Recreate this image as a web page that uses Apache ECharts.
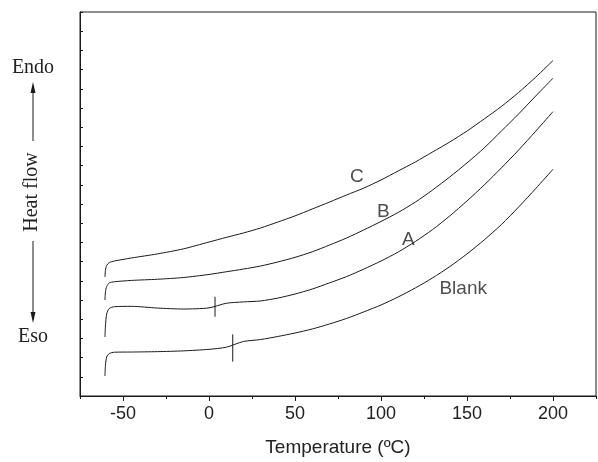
<!DOCTYPE html>
<html><head><meta charset="utf-8">
<script src="https://cdn.jsdelivr.net/npm/echarts@6/dist/echarts.min.js"></script>
<style>html,body{margin:0;padding:0;background:#fff}#c{width:598px;height:462px}</style>
</head><body><div id="c"></div>
<script>
// Temperature (°C) sample points shared by all curves
const temperature = [-60.5, -60.2, -59.5, -58, -55, -45, -30, -15, 0, 10, 20, 30, 40, 50, 60, 70, 80, 90, 100, 110, 120, 130, 140, 150, 160, 170, 180, 190, 200];
// Heat flow (arbitrary units, endo up)
const curveC = [6.20, 6.56, 6.80, 6.95, 7.03, 7.19, 7.40, 7.66, 8.02, 8.26, 8.49, 8.75, 9.06, 9.38, 9.74, 10.10, 10.47, 10.83, 11.25, 11.72, 12.19, 12.71, 13.23, 13.80, 14.43, 15.08, 15.81, 16.61, 17.47];
const curveB = [5.00, 5.42, 5.70, 5.89, 5.95, 6.02, 6.08, 6.17, 6.33, 6.47, 6.61, 6.77, 6.98, 7.22, 7.51, 7.86, 8.23, 8.65, 9.09, 9.56, 10.10, 10.73, 11.41, 12.14, 12.92, 13.80, 14.69, 15.63, 16.55];
const curveA = [3.07, 3.65, 4.27, 4.56, 4.65, 4.67, 4.58, 4.53, 4.59, 4.83, 4.90, 4.95, 5.10, 5.31, 5.57, 5.89, 6.22, 6.61, 7.03, 7.50, 8.05, 8.67, 9.38, 10.16, 10.99, 11.88, 12.81, 13.80, 14.81];
const curveBlank = [1.04, 1.61, 2.03, 2.21, 2.28, 2.29, 2.31, 2.35, 2.43, 2.54, 2.84, 2.94, 3.10, 3.28, 3.49, 3.75, 4.04, 4.38, 4.74, 5.16, 5.63, 6.15, 6.74, 7.40, 8.13, 8.93, 9.84, 10.81, 11.81];
// Glass-transition markers: [temperature, low, high]
const tgA = [3.5, 4.13, 5.17];
const tgBlank = [13.8, 1.79, 3.21];
// Curve labels: [text, temperature, heat flow]
const curveLabels = [["C", 85.9, 11.42], ["B", 101.3, 9.60], ["A", 115.9, 8.13], ["Blank", 147.8, 5.61]];
const xTicks = [-50, 0, 50, 100, 150, 200];

const ink = '#1a1a1a';
const sans = '"Liberation Sans", Arial, sans-serif';
const serif = '"Liberation Serif", "Times New Roman", serif';
const chart = echarts.init(document.getElementById('c'));
function zip(v){ return temperature.map((t,i)=>[t, v[i]]); }
function curve(name, v){
  return {name, type:'line', data: zip(v), showSymbol:false, smooth:0.25,
    lineStyle:{color:ink, width:1}, silent:true};
}
function tick(m){
  return {type:'line', data:[[m[0], m[1]],[m[0], m[2]]], showSymbol:false, lineStyle:{color:ink, width:1}, silent:true};
}
chart.setOption({
  animation:false,
  grid:{left:80, right:2, top:12, bottom:66, show:true, borderColor:ink, borderWidth:1},
  xAxis:[
    {type:'value', min:-75, max:225, interval:25,
      axisLine:{show:true, onZero:false, lineStyle:{color:ink, width:1}},
      axisTick:{show:true, length:5, inside:false, customValues:xTicks, lineStyle:{color:ink}},
      splitLine:{show:false},
      axisLabel:{color:'#222', fontSize:18, fontFamily:sans, margin:9, customValues:xTicks},
      name:'Temperature (ºC)', nameLocation:'middle', nameGap:42,
      nameTextStyle:{color:'#222', fontSize:19, fontFamily:sans}
    },
    {type:'value', min:-75, max:225, interval:25, position:'bottom',
      axisLine:{show:false, onZero:false},
      axisTick:{show:true, length:3, inside:false, lineStyle:{color:ink}},
      axisLabel:{show:false}, splitLine:{show:false}}
  ],
  yAxis:{type:'value', min:0, max:20, interval:1,
    axisLine:{show:true, onZero:false, lineStyle:{color:ink, width:1}},
    axisTick:{show:true, inside:true, length:3, lineStyle:{color:ink}},
    axisLabel:{show:false}, splitLine:{show:false}},
  series:[
    curve('C', curveC), curve('B', curveB), curve('A', curveA), curve('Blank', curveBlank),
    tick(tgA), tick(tgBlank),
    {type:'scatter', symbolSize:1, itemStyle:{color:'rgba(0,0,0,0)'}, silent:true,
      data: curveLabels.map(l=>({name:l[0], value:[l[1], l[2]]})),
      label:{show:true, position:'inside', formatter:'{b}', color:'#222', fontSize:19, fontFamily:sans}}
  ],
  graphic:[
    {type:'text', x:33, y:68, style:{text:'Endo', font:'20px '+serif, fill:'#222', align:'center', verticalAlign:'middle'}},
    {type:'text', x:33, y:337, style:{text:'Eso', font:'20px '+serif, fill:'#222', align:'center', verticalAlign:'middle'}},
    {type:'text', x:32, y:192, rotation:Math.PI/2, style:{text:'Heat flow', font:'20px '+serif, fill:'#222', align:'center', verticalAlign:'middle'}},
    {type:'line', shape:{x1:33, y1:92, x2:33, y2:141}, style:{stroke:ink, lineWidth:1}},
    {type:'polygon', shape:{points:[[33,82],[30.5,93],[35.5,93]]}, style:{fill:ink}},
    {type:'line', shape:{x1:33, y1:241, x2:33, y2:314}, style:{stroke:ink, lineWidth:1}},
    {type:'polygon', shape:{points:[[33,323],[30.5,312],[35.5,312]]}, style:{fill:ink}}
  ]
});
</script></body></html>
